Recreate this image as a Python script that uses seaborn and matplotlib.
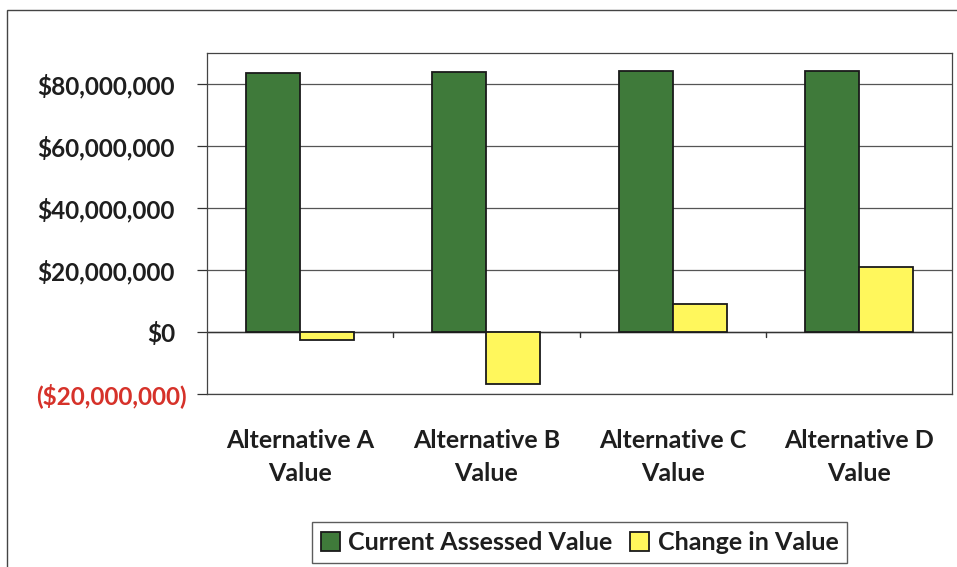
import matplotlib
matplotlib.use("Agg")
import matplotlib.pyplot as plt
import seaborn as sns
import pandas as pd
from matplotlib.patches import Rectangle

# Data
categories = ["Alternative A\nValue", "Alternative B\nValue", "Alternative C\nValue", "Alternative D\nValue"]
current_assessed = [83_600_000, 83_950_000, 84_200_000, 84_300_000]
change_in_value = [-2_600_000, -16_700_000, 9_100_000, 21_000_000]
series_names = ["Current Assessed Value", "Change in Value"]
y_ticks = [-20_000_000, 0, 20_000_000, 40_000_000, 60_000_000, 80_000_000]

df = pd.DataFrame({
    "category": categories * 2,
    "series": [series_names[0]] * 4 + [series_names[1]] * 4,
    "value": current_assessed + change_in_value,
})

sns.set_theme(style="white")
plt.rcParams["font.family"] = ["Lato", "DejaVu Sans"]
plt.rcParams["font.weight"] = "bold"

fig = plt.figure(figsize=(9.57, 5.67), dpi=100)
ax = fig.add_axes([207 / 957, 1 - 394 / 567, (952 - 207) / 957, (394 - 53) / 567])

palette = {series_names[0]: "#3f7a3a", series_names[1]: "#fff75c"}
sns.barplot(data=df, x="category", y="value", hue="series", palette=palette,
            width=0.58, edgecolor="#1a1a1a", linewidth=1.3, saturation=1,
            ax=ax, zorder=3, legend=True)

ax.set_ylim(-20_000_000, 90_000_000)
ax.set_xlim(-0.5, 3.5)
ax.set_yticks(y_ticks)


def money(v):
    if v < 0:
        return "(${:,.0f})".format(-v)
    return "${:,.0f}".format(v)


ax.set_yticklabels([money(v) for v in y_ticks], fontsize=17.5, fontweight="bold")
ax.tick_params(axis="y", which="both", left=True, length=7, width=0.9, color="#333333", pad=16)
for tick, v in zip(ax.yaxis.get_major_ticks(), y_ticks):
    if v < 0:
        tick.label1.set_color("#d6322a")
        # closing parenthesis hangs past the digit column
        tick.set_pad(7.5)
    else:
        tick.label1.set_color("#1e1e1e")

ax.yaxis.grid(True, color="#555555", linewidth=0.9, zorder=0)
ax.set_axisbelow(True)
ax.tick_params(axis="x", bottom=False, pad=19)
for lbl in ax.get_xticklabels():
    lbl.set_fontsize(18)
    lbl.set_fontweight("bold")
    lbl.set_color("#1e1e1e")
    lbl.set_linespacing(1.55)

ax.set_xlabel("")
ax.set_ylabel("")

for side in ["top", "right", "left", "bottom"]:
    ax.spines[side].set_visible(True)
    ax.spines[side].set_color("#444444")
    ax.spines[side].set_linewidth(0.9)

# zero line with category separator ticks
ax.axhline(0, color="#333333", linewidth=1.0, zorder=2)
for xb in [0.5, 1.5, 2.5]:
    ax.plot([xb, xb], [0, -1_700_000], color="#333333", linewidth=1.0, zorder=2, clip_on=False)

# legend
handles, labels = ax.get_legend_handles_labels()
leg = ax.legend(handles, labels, loc="upper center", bbox_to_anchor=(0.5, -0.34),
                ncol=2, frameon=True, fancybox=False, edgecolor="#333333",
                prop={"size": 18, "weight": "bold"}, handlelength=0.75, handleheight=0.75,
                handletextpad=0.35, columnspacing=0.7, borderpad=0.35)
leg.get_frame().set_linewidth(1.0)
for t in leg.get_texts():
    t.set_color("#1e1e1e")

# outer chart frame
fig.patches.append(Rectangle((7 / 957, -0.05), 1.1, 1 - 10 / 567 + 0.05,
                             transform=fig.transFigure, fill=False,
                             edgecolor="#444444", linewidth=1.0))

fig.savefig("out.png", dpi=100)
